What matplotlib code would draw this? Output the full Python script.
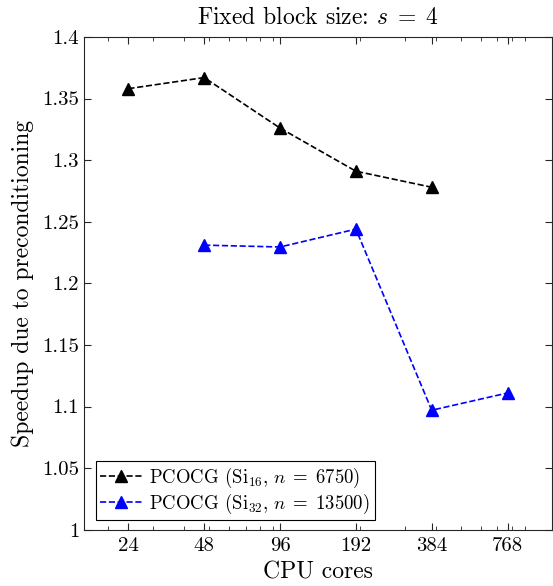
import numpy as np
import matplotlib
matplotlib.use('Agg')
import matplotlib.pyplot as plt

plt.rcParams['font.family'] = 'serif'
plt.rcParams['font.serif'] = ['cmr10']
plt.rcParams['mathtext.fontset'] = 'cm'
plt.rcParams['axes.formatter.use_mathtext'] = True

cores = [24, 48, 96, 192, 384, 768]
si16_cores = [24, 48, 96, 192, 384]
si16_speedup = [1.358, 1.367, 1.326, 1.291, 1.278]
si32_cores = [48, 96, 192, 384, 768]
si32_speedup = [1.231, 1.2295, 1.244, 1.097, 1.111]
yticks = [1.0, 1.05, 1.1, 1.15, 1.2, 1.25, 1.3, 1.35, 1.4]
ylabels = ['1', '1.05', '1.1', '1.15', '1.2', '1.25', '1.3', '1.35', '1.4']

fig = plt.figure(figsize=(5.53, 5.86), dpi=100)
ax = fig.add_axes([0.152, 0.096, 0.846, 0.841])

ax.plot(si16_cores, si16_speedup, '--^', color='black', lw=1.2, ms=8,
        label=r'PCOCG (Si$_{16}$, $n\;=\;6750$)')
ax.plot(si32_cores, si32_speedup, '--^', color='blue', lw=1.2, ms=8,
        label=r'PCOCG (Si$_{32}$, $n\;=\;13500$)')

ax.set_xscale('log')
ax.set_xlim(16, 1152)
ax.set_xticks(cores)
ax.set_xticklabels([str(c) for c in cores])
ax.set_ylim(1.0, 1.4)
ax.set_yticks(yticks)
ax.set_yticklabels(ylabels)

ax.tick_params(which='both', direction='in', top=True, right=True,
               labelsize=15, color='#262626')
ax.tick_params(which='major', length=5)
ax.tick_params(which='minor', length=3)
ax.tick_params(axis='x', pad=5)
for s in ax.spines.values():
    s.set_color('#262626')
    s.set_linewidth(0.8)

ax.set_xlabel('CPU cores', fontsize=17, labelpad=5)
ax.set_ylabel('Speedup due to preconditioning', fontsize=17, labelpad=6)
ax.set_title(r'Fixed block size: $s\;=\;4$', fontsize=17, pad=9)

leg = ax.legend(loc='lower left', fontsize=13.5, fancybox=False,
                edgecolor='black', framealpha=1, borderaxespad=0.5,
                handlelength=2.2, handletextpad=0.4, borderpad=0.25,
                labelspacing=0.1, bbox_to_anchor=(0.005, 0.0))
leg.get_frame().set_linewidth(0.8)

fig.savefig('out.png', dpi=100, facecolor='white')
